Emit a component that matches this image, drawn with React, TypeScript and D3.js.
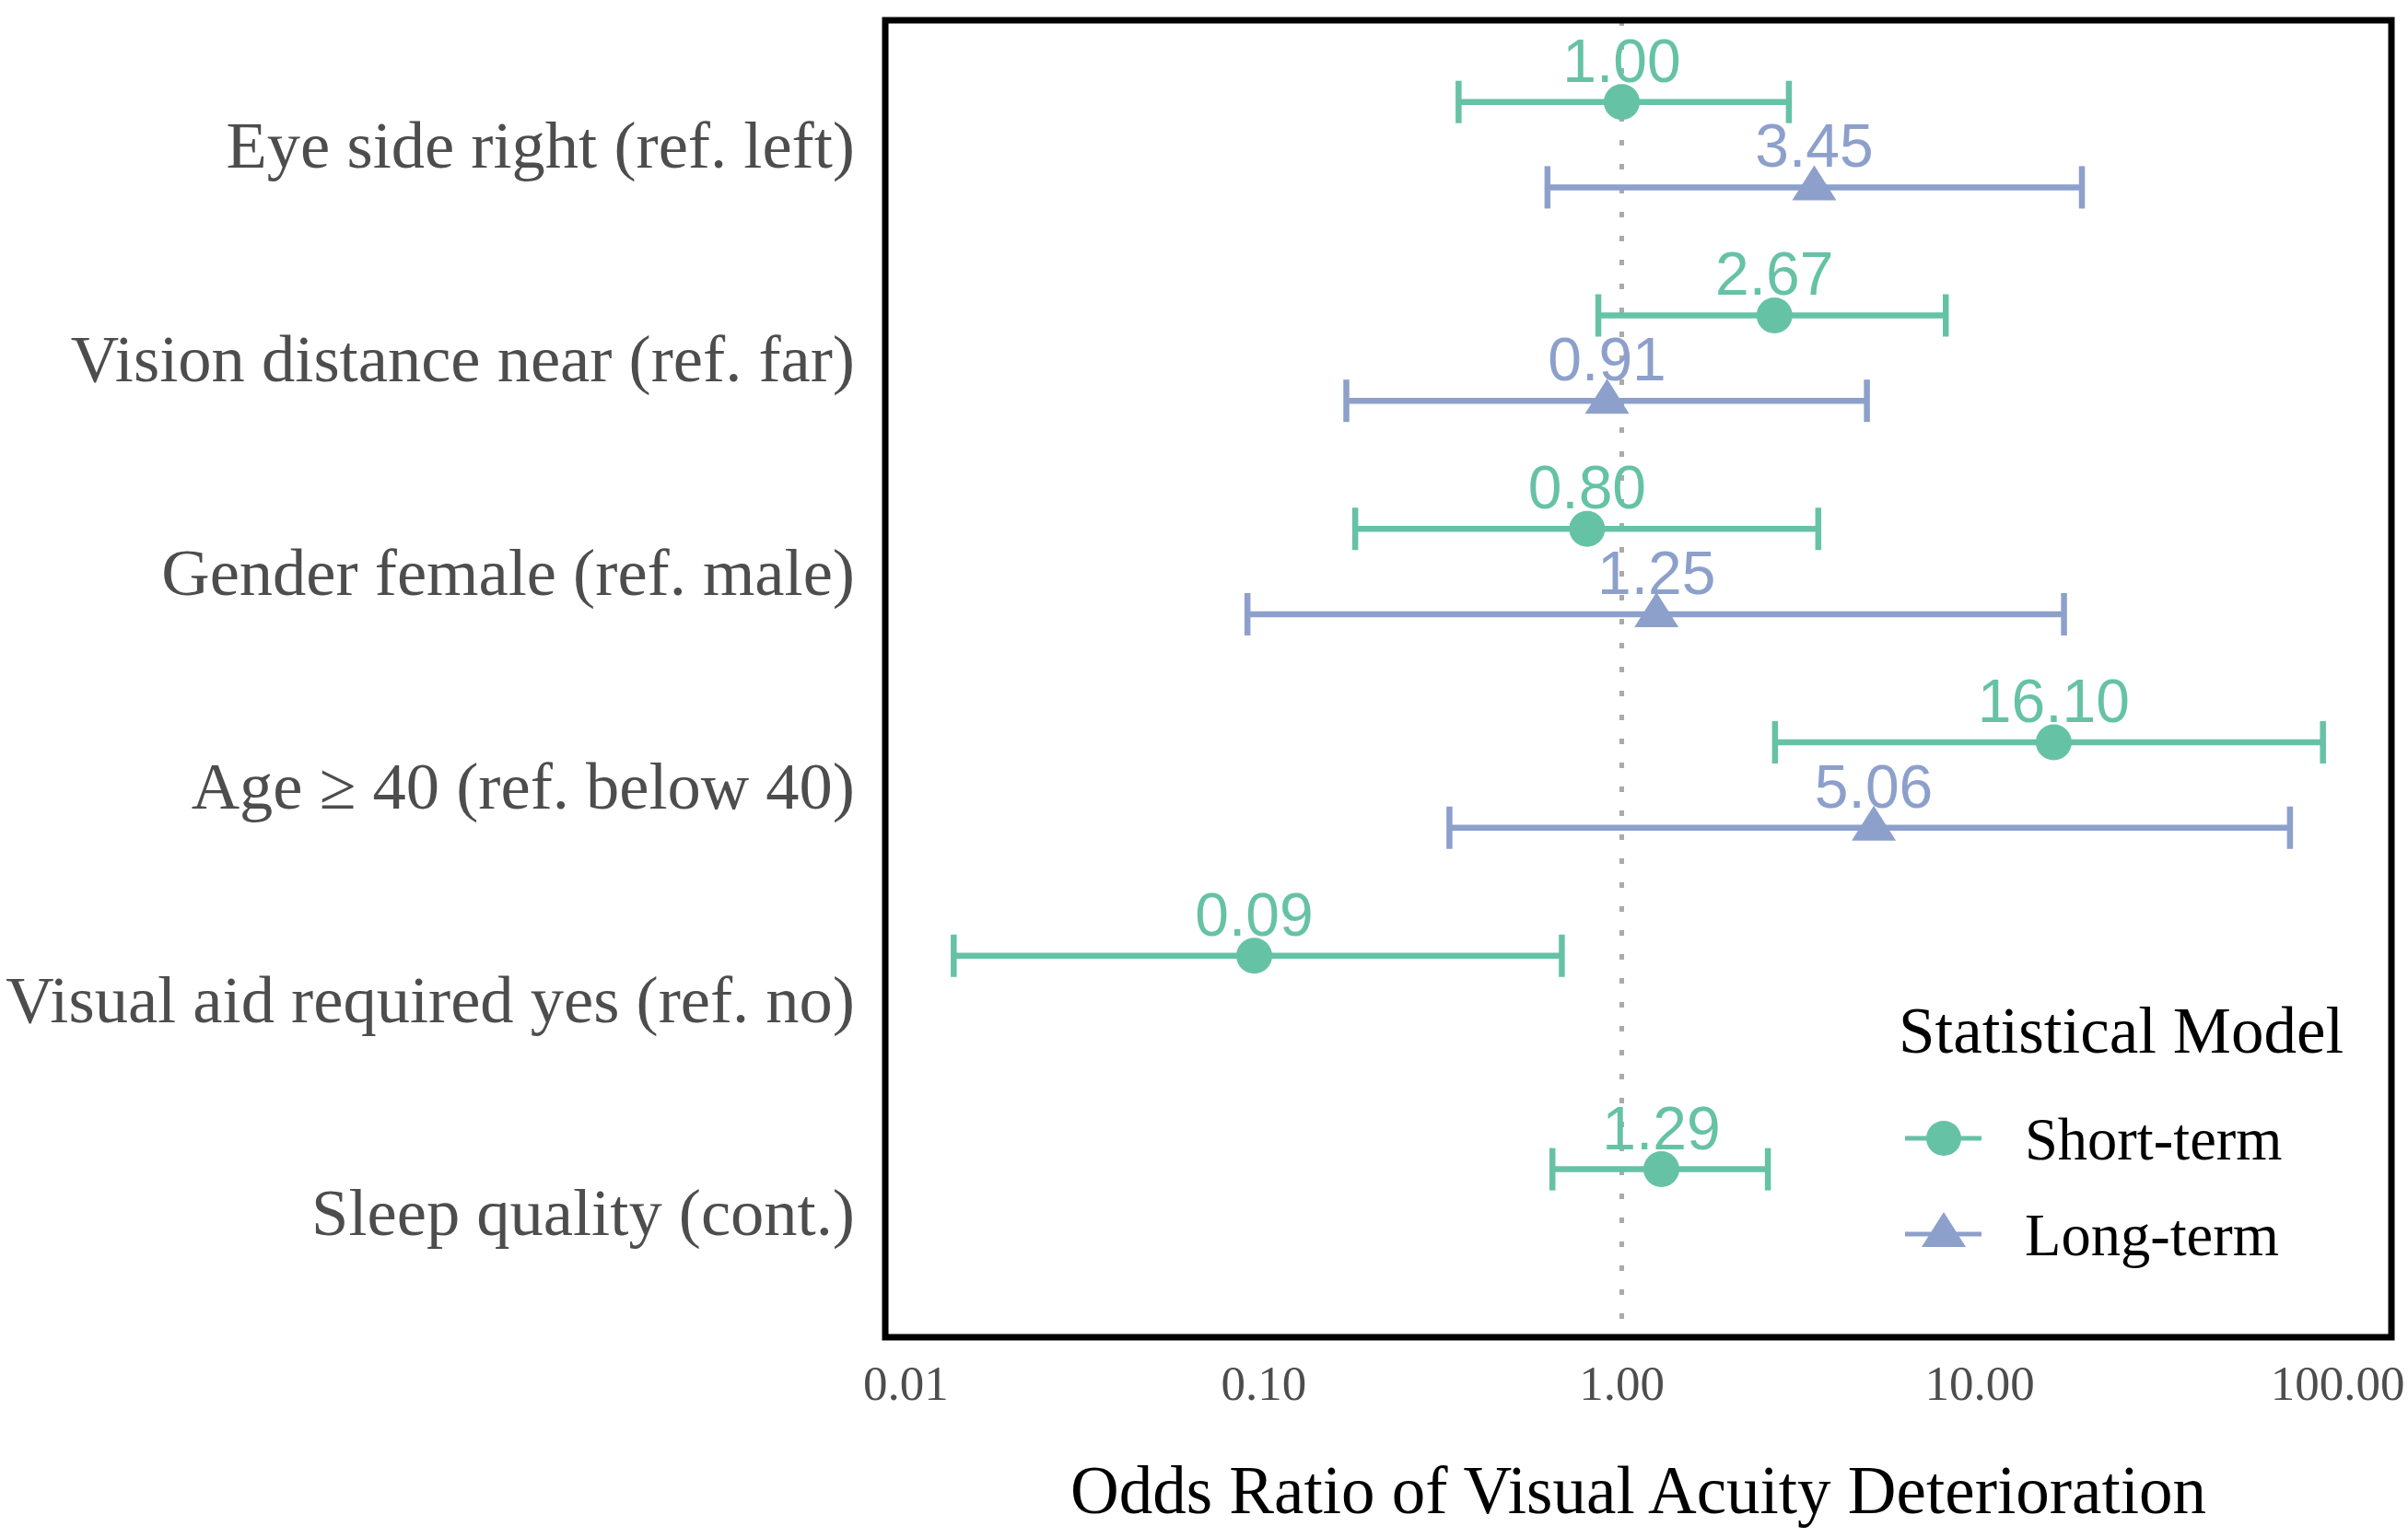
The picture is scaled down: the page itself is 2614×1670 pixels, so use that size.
import { useEffect } from 'react';
import * as d3 from 'd3';

const categories = [
	'Eye side right (ref. left)',
	'Vision distance near (ref. far)',
	'Gender female (ref. male)',
	'Age \u2265 40 (ref. below 40)',
	'Visual aid required yes (ref. no)',
	'Sleep quality (cont.)',
];

// Short-term model: odds ratio with 95% CI
const shortOR = [1.0, 2.67, 0.8, 16.1, 0.094, 1.29];
const shortLo = [0.35, 0.86, 0.18, 2.68, 0.0136, 0.64];
const shortHi = [2.93, 8.04, 3.54, 91.0, 0.68, 2.56];

// Long-term model (not estimated for the last two rows)
const longOR = [3.45, 0.91, 1.25, 5.06, null, null];
const longLo = [0.62, 0.17, 0.09, 0.33, null, null];
const longHi = [19.3, 4.84, 17.2, 73.6, null, null];

const xTicks = [0.01, 0.1, 1, 10, 100];
const seriesNames = ['Short-term', 'Long-term'];
const seriesColors = ['#66c2a5', '#8da0cb'];

const W = 2614;
const H = 1670;
const panel = { left: 961, right: 2596, top: 22, bottom: 1452 };

type Row = { cat: string; series: number; or: number; lo: number; hi: number };

export default function App() {
	useEffect(() => {
		document.body.style.margin = '0';
	}, []);

	const rows: Row[] = [];
	categories.forEach((cat, i) => {
		rows.push({ cat, series: 0, or: shortOR[i], lo: shortLo[i], hi: shortHi[i] });
		if (longOR[i] != null) {
			rows.push({ cat, series: 1, or: longOR[i] as number, lo: longLo[i] as number, hi: longHi[i] as number });
		}
	});

	// log domain with 5% expansion like ggplot
	const lmin = Math.log10(d3.min(rows, (d) => d.lo) as number);
	const lmax = Math.log10(d3.max(rows, (d) => d.hi) as number);
	const pad = (lmax - lmin) * 0.05;
	const x = d3
		.scaleLog()
		.domain([Math.pow(10, lmin - pad), Math.pow(10, lmax + pad)])
		.range([panel.left, panel.right]);

	const y = d3.scalePoint<string>().domain(categories).range([18, 1455]).padding(0.6);
	const dodge = y.step() * 0.2;
	const yPos = (d: Row) => (y(d.cat) as number) + (d.series === 0 ? -dodge : dodge);

	const capH = 23;
	const tri = (cx: number, cy: number) => `M${cx},${cy - 24}L${cx + 24},${cy + 14}L${cx - 24},${cy + 14}Z`;

	return (
		<svg width={W} height={H} style={{ display: 'block', background: '#fff' }}>
			{/* reference line at OR = 1 */}
			<line
				x1={x(1)}
				x2={x(1)}
				y1={panel.top}
				y2={panel.bottom}
				stroke="#aaaaaa"
				strokeWidth={5}
				strokeDasharray="6 20"
			/>

			{/* error bars */}
			{rows.map((d, i) => {
				const cy = yPos(d);
				const c = seriesColors[d.series];
				return (
					<g key={`eb${i}`} stroke={c} strokeWidth={6.5}>
						<line x1={x(d.lo)} x2={x(d.hi)} y1={cy} y2={cy} />
						<line x1={x(d.lo)} x2={x(d.lo)} y1={cy - capH} y2={cy + capH} />
						<line x1={x(d.hi)} x2={x(d.hi)} y1={cy - capH} y2={cy + capH} />
					</g>
				);
			})}

			{/* points */}
			{rows.map((d, i) => {
				const cx = x(d.or);
				const cy = yPos(d);
				const c = seriesColors[d.series];
				return d.series === 0 ? (
					<circle key={`pt${i}`} cx={cx} cy={cy} r={19.5} fill={c} />
				) : (
					<path key={`pt${i}`} d={tri(cx, cy)} fill={c} />
				);
			})}

			{/* value labels */}
			{rows.map((d, i) => (
				<text
					key={`lb${i}`}
					x={x(d.or)}
					y={yPos(d) - 22}
					textAnchor="middle"
					fontFamily="'Liberation Sans', Arial, sans-serif"
					fontSize={66}
					fill={seriesColors[d.series]}
				>
					{d.or.toFixed(2)}
				</text>
			))}

			{/* panel border */}
			<rect
				x={panel.left}
				y={panel.top}
				width={panel.right - panel.left}
				height={panel.bottom - panel.top}
				fill="none"
				stroke="#000"
				strokeWidth={7}
			/>

			{/* y axis labels */}
			{categories.map((c) => (
				<text
					key={c}
					x={928}
					y={y(c)}
					dy="0.35em"
					textAnchor="end"
					fontFamily="'Liberation Serif', 'Times New Roman', serif"
					fontSize={72.5}
					fill="#4d4d4d"
				>
					{c}
				</text>
			))}

			{/* x axis tick labels */}
			{xTicks.map((t) => (
				<text
					key={t}
					x={x(t)}
					y={1520}
					textAnchor="middle"
					fontFamily="'Liberation Serif', 'Times New Roman', serif"
					fontSize={53}
					fill="#4d4d4d"
				>
					{t.toFixed(2)}
				</text>
			))}

			{/* x axis title */}
			<text
				x={(panel.left + panel.right) / 2}
				y={1643}
				textAnchor="middle"
				fontFamily="'Liberation Serif', 'Times New Roman', serif"
				fontSize={73}
				fill="#000"
			>
				Odds Ratio of Visual Acuity Deterioration
			</text>

			{/* legend */}
			<g fontFamily="'Liberation Serif', 'Times New Roman', serif" fill="#000">
				<text x={2061} y={1143} fontSize={71}>
					Statistical Model
				</text>
				{seriesNames.map((s, i) => {
					const ky = 1236 + i * 104;
					const c = seriesColors[i];
					return (
						<g key={s}>
							<line x1={2068} x2={2151} y1={ky} y2={ky} stroke={c} strokeWidth={5} />
							{i === 0 ? <circle cx={2110} cy={ky} r={19} fill={c} /> : <path d={tri(2110, ky)} fill={c} />}
							<text x={2198} y={ky + 23} fontSize={64.5}>
								{s}
							</text>
						</g>
					);
				})}
			</g>
		</svg>
	);
}
